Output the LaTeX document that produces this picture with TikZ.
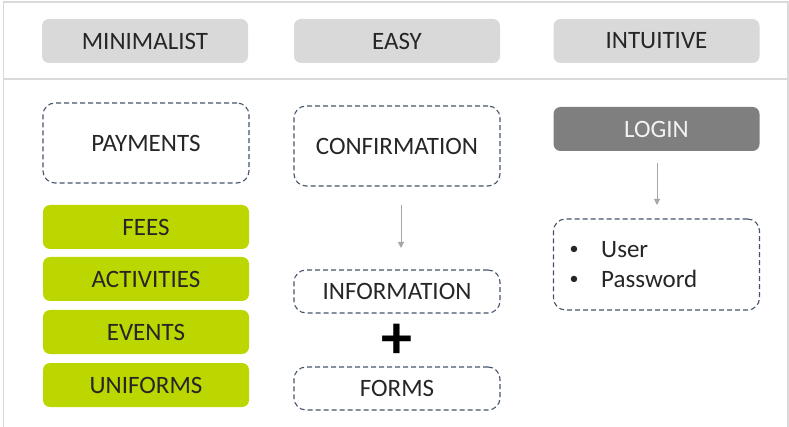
\documentclass[tikz,border=0pt]{standalone}
\usepackage{fontspec}
\setmainfont{Carlito}
\usetikzlibrary{arrows.meta}
\definecolor{txt}{HTML}{262626}
\definecolor{hdr}{HTML}{D9D9D9}
\definecolor{lime}{HTML}{BCD600}
\definecolor{dash}{HTML}{44546A}
\definecolor{frame}{HTML}{D9D9D9}
\definecolor{arr}{HTML}{A6A6A6}
\definecolor{loginbg}{HTML}{7F7F7F}
\tikzset{
  x=1pt, y=-1pt,
  every node/.style={font=\fontsize{25}{29}\selectfont, text=txt, inner sep=0pt},
  box/.style={minimum width=206pt, minimum height=44pt, rounded corners=7pt},
  header/.style={box, fill=hdr},
  item/.style={box, fill=lime},
  dashbox/.style={draw=dash, line width=1.1pt, dash pattern=on 5pt off 3pt,
                  rounded corners=12pt, minimum width=206pt},
  login/.style={box, fill=loginbg, text=white!95!black},
  flow/.style={draw=arr, line width=1pt, -{Triangle[length=6pt,width=6pt]}},
}
\begin{document}
\begin{tikzpicture}
\useasboundingbox (0,0) rectangle (789,427);
% outer frame and header divider
\draw[frame, line width=1.5pt] (3.5,427) -- (3.5,2) -- (788,2) -- (788,427);
\draw[frame, line width=1.5pt] (3.5,79) -- (789,79);

% column headers
\node[header] (hmin) at (145,41) {MINIMALIST};
\node[header] (heasy) at (397,41) {EASY};
\node[header] (hint) at (656.5,41) {INTUITIVE};

% minimalist column
\node[dashbox, minimum height=80pt] (pay) at (146,143) {PAYMENTS};
\node[item] (fees) at (146,227) {FEES};
\node[item] (act) at (146,279) {ACTIVITIES};
\node[item] (ev) at (146,332) {EVENTS};
\node[item] (uni) at (146,385) {UNIFORMS};

% easy column
\node[dashbox, minimum height=80pt] (conf) at (397,146) {CONFIRMATION};
\node[dashbox, minimum height=43pt] (info) at (397,291.5) {INFORMATION};
\node[font=\fontsize{62}{62}\selectfont\bfseries, text=black] (plus) at (397,341) {+};
\node[dashbox, minimum height=43pt] (forms) at (397,388.5) {FORMS};
\coordinate (ca) at (401,205);
\coordinate (cb) at (401,248);
\draw[flow] (ca) -- (cb);

% intuitive column
\node[login] (login) at (656.5,129) {LOGIN};
\node[dashbox, minimum height=91pt] (cred) at (656.5,264.5) {};
\node[font=\fontsize{18}{20}\selectfont] (bu1) at (574,250) {\textbullet};
\node[anchor=base west] (user) at (601,258) {User};
\node[font=\fontsize{18}{20}\selectfont] (bu2) at (574,280) {\textbullet};
\node[anchor=base west] (pass) at (601,288) {Password};
\coordinate (la) at (657,163);
\coordinate (lb) at (657,205);
\draw[flow] (la) -- (lb);
\end{tikzpicture}
\end{document}
